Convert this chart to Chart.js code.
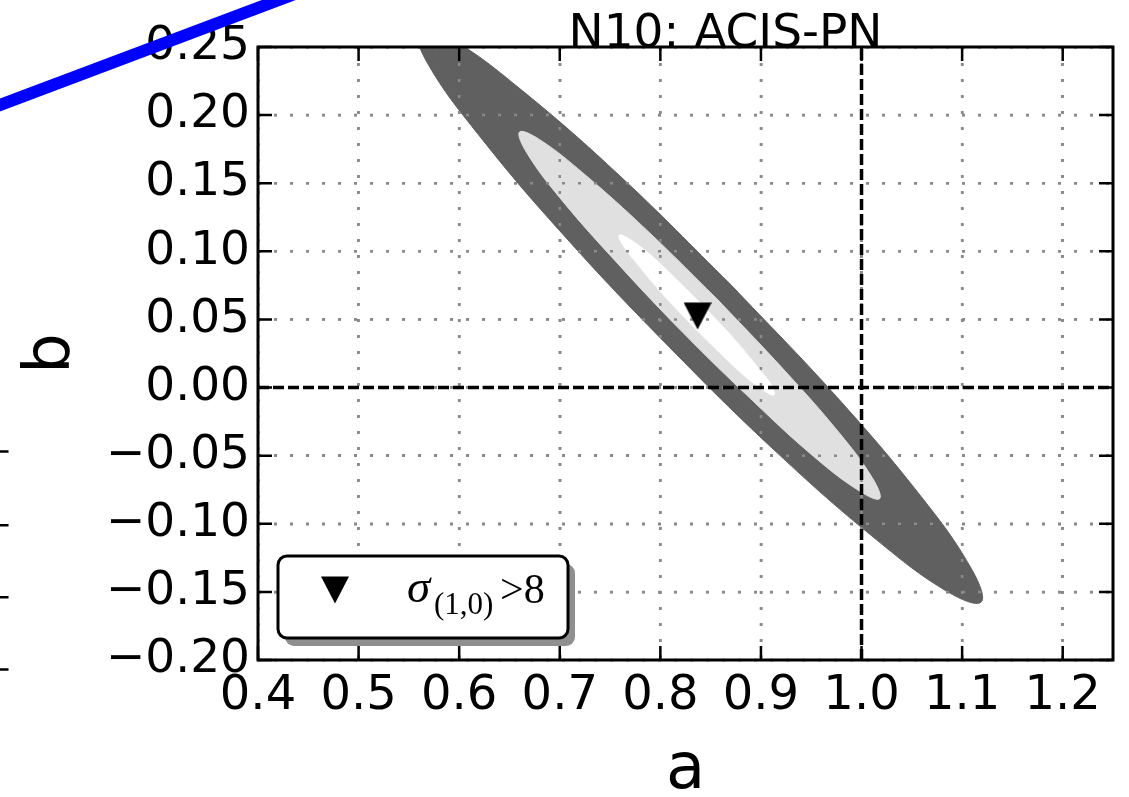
<!DOCTYPE html>
<html>
<head>
<meta charset="utf-8">
<script src="https://cdn.jsdelivr.net/npm/chart.js@4.4.1/dist/chart.umd.min.js"></script>
<style>
  html, body { margin: 0; padding: 0; background: #fff; }
</style>
</head>
<body>
<canvas id="contours" width="1129" height="797"></canvas>
<script>
(function () {
    "use strict";

    // contour outlines (a, b pairs going round each region)
    var outerA = [0.870, 0.761, 0.663, 0.592, 0.559, 0.568, 0.619, 0.703, 0.808, 0.917, 1.015, 1.086, 1.119, 1.109, 1.059, 0.975, 0.870];
    var outerB = [0.0756, 0.1545, 0.2178, 0.2561, 0.2634, 0.2388, 0.1858, 0.1126, 0.0304, -0.0485, -0.1118, -0.1501, -0.1574, -0.1327, -0.0798, -0.0066, 0.0756];

    var middleA = [0.856, 0.786, 0.724, 0.680, 0.660, 0.667, 0.700, 0.755, 0.822, 0.892, 0.953, 0.998, 1.018, 1.011, 0.978, 0.923, 0.856];
    var middleB = [0.0653, 0.1159, 0.1569, 0.1820, 0.1876, 0.1726, 0.1394, 0.0931, 0.0407, -0.0098, -0.0509, -0.0760, -0.0816, -0.0666, -0.0334, 0.0129, 0.0653];

    var innerA = [0.844, 0.814, 0.788, 0.768, 0.759, 0.762, 0.777, 0.800, 0.829, 0.859, 0.885, 0.905, 0.913, 0.911, 0.896, 0.873, 0.844];
    var innerB = [0.0589, 0.0809, 0.0988, 0.1096, 0.1120, 0.1054, 0.0908, 0.0705, 0.0476, 0.0256, 0.0077, -0.0032, -0.0055, 0.0011, 0.0156, 0.0360, 0.0589];

    // best fit point (sigma > 8)
    var bestA = [0.837];
    var bestB = [0.0525];

    // reference lines a = 1, b = 0
    var zeroLineA = [0.4, 1.25];
    var zeroLineB = [0, 0];
    var unityLineA = [1.0, 1.0];
    var unityLineB = [-0.2, 0.25];

    // bits of the neighbouring panel that show at the left edge (null = gap)
    var neighbourLineA = [0.124, 0.462];
    var neighbourLineB = [0.202, 0.296];
    var neighbourTickA = [0.139, 0.152, null, 0.139, 0.152, null, 0.139, 0.152, null, 0.139, 0.152];
    var neighbourTickB = [-0.047, -0.047, null, -0.101, -0.101, null, -0.154, -0.154, null, -0.207, -0.207];

    var xTicks = [0.4, 0.5, 0.6, 0.7, 0.8, 0.9, 1.0, 1.1, 1.2];
    var xTickLabels = ["0.4", "0.5", "0.6", "0.7", "0.8", "0.9", "1.0", "1.1", "1.2"];
    var yTicks = [-0.2, -0.15, -0.1, -0.05, 0, 0.05, 0.1, 0.15, 0.2, 0.25];
    var yTickLabels = ["\u22120.20", "\u22120.15", "\u22120.10", "\u22120.05", "0.00", "0.05", "0.10", "0.15", "0.20", "0.25"];

    var titleText = "N10: ACIS-PN";
    var legendSymbol = "\u03c3";
    var legendSub = "(1,0)";
    var legendTail = ">8";

    function pts(xs, ys) {
        return xs.map(function (x, i) { return {x: x, y: ys[i]}; });
    }

    // matplotlib style "v" marker
    var marker = document.createElement("canvas");
    marker.width = 28;
    marker.height = 28;
    var mctx = marker.getContext("2d");
    mctx.fillStyle = "#000";
    mctx.beginPath();
    mctx.moveTo(0, 0.5);
    mctx.lineTo(28, 0.5);
    mctx.lineTo(14, 27.5);
    mctx.closePath();
    mctx.fill();

    function roundBox(ctx, x, y, w, h, r) {
        ctx.beginPath();
        ctx.moveTo(x + r, y);
        ctx.lineTo(x + w - r, y);
        ctx.arcTo(x + w, y, x + w, y + r, r);
        ctx.lineTo(x + w, y + h - r);
        ctx.arcTo(x + w, y + h, x + w - r, y + h, r);
        ctx.lineTo(x + r, y + h);
        ctx.arcTo(x, y + h, x, y + h - r, r);
        ctx.lineTo(x, y + r);
        ctx.arcTo(x, y, x + r, y, r);
        ctx.closePath();
    }

    var framePlugin = {
        id: "frame",
        // dotted grid goes over the filled contours, under the dashed lines
        afterDatasetDraw: function (chart, args) {
            if (args.index !== 2) return;
            var ctx = chart.ctx, ca = chart.chartArea;
            var xs = chart.scales.x, ys = chart.scales.y;
            ctx.save();
            ctx.beginPath();
            ctx.rect(ca.left, ca.top, ca.right - ca.left, ca.bottom - ca.top);
            ctx.clip();
            ctx.strokeStyle = "#8a8a8a";
            ctx.lineWidth = 2.5;
            ctx.setLineDash([3, 13]);
            ctx.beginPath();
            xTicks.forEach(function (v) {
                var p = xs.getPixelForValue(v);
                ctx.moveTo(p, ca.top); ctx.lineTo(p, ca.bottom);
            });
            yTicks.forEach(function (v) {
                var p = ys.getPixelForValue(v);
                ctx.moveTo(ca.left, p); ctx.lineTo(ca.right, p);
            });
            ctx.stroke();
            ctx.restore();
        },
        afterDatasetsDraw: function (chart) {
            var ctx = chart.ctx, ca = chart.chartArea;
            var xs = chart.scales.x, ys = chart.scales.y;
            ctx.save();
            ctx.strokeStyle = "#000";
            ctx.lineWidth = 2.5;
            ctx.beginPath();
            xTicks.forEach(function (v) {
                var p = xs.getPixelForValue(v);
                ctx.moveTo(p, ca.bottom); ctx.lineTo(p, ca.bottom - 14);
                ctx.moveTo(p, ca.top); ctx.lineTo(p, ca.top + 14);
            });
            yTicks.forEach(function (v) {
                var p = ys.getPixelForValue(v);
                ctx.moveTo(ca.left, p); ctx.lineTo(ca.left + 14, p);
                ctx.moveTo(ca.right, p); ctx.lineTo(ca.right - 14, p);
            });
            ctx.stroke();
            ctx.lineWidth = 3;
            ctx.strokeRect(ca.left, ca.top, ca.right - ca.left, ca.bottom - ca.top);

            ctx.fillStyle = "#000";
            ctx.font = '47px "DejaVu Sans"';
            ctx.textAlign = "center";
            ctx.textBaseline = "alphabetic";
            ctx.fillText(titleText, (ca.left + ca.right) / 2 + 40, ca.top);
            ctx.restore();
        },
        afterDraw: function (chart) {
            var ctx = chart.ctx, ca = chart.chartArea;
            var bx = ca.left + 20, by = ca.bottom - 104, bw = 290, bh = 82;
            ctx.save();
            // shadow
            ctx.fillStyle = "#8f8f8f";
            roundBox(ctx, bx + 7, by + 8, bw, bh, 9);
            ctx.fill();
            // box
            ctx.fillStyle = "#fff";
            ctx.strokeStyle = "#000";
            ctx.lineWidth = 3;
            roundBox(ctx, bx, by, bw, bh, 9);
            ctx.fill();
            ctx.stroke();
            // marker + label
            ctx.drawImage(marker, bx + 57 - 14, by + 34 - 14);
            ctx.fillStyle = "#000";
            ctx.textBaseline = "alphabetic";
            ctx.textAlign = "left";
            ctx.font = 'italic 47px "Liberation Serif"';
            ctx.fillText(legendSymbol, bx + 129, by + 46);
            ctx.font = '31px "Liberation Serif"';
            ctx.fillText(legendSub, bx + 156, by + 58);
            ctx.font = '42px "Liberation Serif"';
            ctx.fillText(legendTail, bx + 222, by + 47);
            ctx.restore();
        }
    };

    Chart.defaults.font.family = "DejaVu Sans";
    Chart.defaults.color = "#000";

    var region = function (xs, ys, colour, order) {
        return {
            data: pts(xs, ys),
            showLine: true,
            fill: "shape",
            backgroundColor: colour,
            borderColor: colour,
            borderWidth: 1,
            tension: 0.4,
            pointRadius: 0,
            order: order
        };
    };

    var ctx = document.getElementById("contours").getContext("2d");
    new Chart(ctx, {
        type: "scatter",
        data: {
            datasets: [
                region(outerA, outerB, "#606060", 5),
                region(middleA, middleB, "#e0e0e0", 4),
                region(innerA, innerB, "#ffffff", 3),
                {
                    data: pts(zeroLineA, zeroLineB),
                    showLine: true, borderColor: "#000", borderWidth: 3.5, borderDash: [11, 4],
                    pointRadius: 0, order: 2
                },
                {
                    data: pts(unityLineA, unityLineB),
                    showLine: true, borderColor: "#000", borderWidth: 3.5, borderDash: [11, 4],
                    pointRadius: 0, order: 2
                },
                {
                    data: pts(bestA, bestB),
                    pointStyle: marker, pointRadius: 14, order: 1
                },
                {
                    data: pts(neighbourLineA, neighbourLineB),
                    showLine: true, borderColor: "#0000ff", borderWidth: 12,
                    pointRadius: 0, clip: false, order: 0
                },
                {
                    data: pts(neighbourTickA, neighbourTickB),
                    showLine: true, spanGaps: false, borderColor: "#000", borderWidth: 2.5,
                    pointRadius: 0, clip: false, order: 0
                }
            ]
        },
        options: {
            responsive: false,
            animation: false,
            devicePixelRatio: 1,
            layout: {padding: {top: 47, right: 16, left: 0, bottom: 0}},
            elements: {line: {capBezierPoints: false}},
            plugins: {
                legend: {display: false},
                tooltip: {enabled: false}
            },
            scales: {
                x: {
                    type: "linear",
                    min: 0.4,
                    max: 1.25,
                    afterBuildTicks: function (s) {
                        s.ticks = xTicks.map(function (v) { return {value: v}; });
                    },
                    afterFit: function (s) { s.height = 137; },
                    ticks: {
                        autoSkip: false,
                        maxRotation: 0,
                        padding: 8,
                        font: {size: 48},
                        callback: function (v, i) { return xTickLabels[i]; }
                    },
                    grid: {color: "#8a8a8a", lineWidth: 2.5, drawTicks: false},
                    border: {display: false, dash: [3, 13]},
                    title: {
                        display: true,
                        text: "a",
                        font: {size: 64, lineHeight: 0.8},
                        padding: 0
                    }
                },
                y: {
                    type: "linear",
                    min: -0.2,
                    max: 0.25,
                    afterBuildTicks: function (s) {
                        s.ticks = yTicks.map(function (v) { return {value: v}; });
                    },
                    afterFit: function (s) { s.width = 258; },
                    ticks: {
                        autoSkip: false,
                        padding: 8,
                        font: {size: 47},
                        callback: function (v, i) { return yTickLabels[i]; }
                    },
                    grid: {color: "#8a8a8a", lineWidth: 2.5, drawTicks: false},
                    border: {display: false, dash: [3, 13]},
                    title: {
                        display: true,
                        text: "b",
                        font: {size: 64, lineHeight: 0.8},
                        padding: {top: 27, bottom: 0}
                    }
                }
            }
        },
        plugins: [framePlugin]
    });
})();
</script>
</body>
</html>
